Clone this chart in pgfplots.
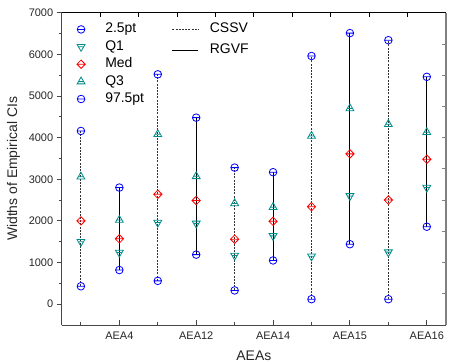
\documentclass[border=0pt]{standalone}
\usepackage{fontspec}
\setmainfont{Liberation Sans}
\usepackage{pgfplots}
\pgfplotsset{compat=1.18}
\definecolor{tealc}{RGB}{0,140,140}
\definecolor{axgray}{RGB}{70,70,70}
\pgfdeclareplotmark{ominus}{%
  \pgfpathcircle{\pgfpointorigin}{\pgfplotmarksize}%
  \pgfpathmoveto{\pgfpoint{-\pgfplotmarksize}{0pt}}%
  \pgfpathlineto{\pgfpoint{\pgfplotmarksize}{0pt}}%
  \pgfusepathqstroke}
\pgfdeclareplotmark{tridown}{%
  \pgfpathmoveto{\pgfpoint{0pt}{-1.2\pgfplotmarksize}}%
  \pgfpathlineto{\pgfpoint{1.04\pgfplotmarksize}{0.6\pgfplotmarksize}}%
  \pgfpathlineto{\pgfpoint{-1.04\pgfplotmarksize}{0.6\pgfplotmarksize}}%
  \pgfpathclose
  \pgfpathmoveto{\pgfpoint{-0.69\pgfplotmarksize}{0pt}}%
  \pgfpathlineto{\pgfpoint{0.69\pgfplotmarksize}{0pt}}%
  \pgfusepathqstroke}
\pgfdeclareplotmark{triup}{%
  \pgfpathmoveto{\pgfpoint{0pt}{1.2\pgfplotmarksize}}%
  \pgfpathlineto{\pgfpoint{1.04\pgfplotmarksize}{-0.6\pgfplotmarksize}}%
  \pgfpathlineto{\pgfpoint{-1.04\pgfplotmarksize}{-0.6\pgfplotmarksize}}%
  \pgfpathclose
  \pgfpathmoveto{\pgfpoint{-0.69\pgfplotmarksize}{0pt}}%
  \pgfpathlineto{\pgfpoint{0.69\pgfplotmarksize}{0pt}}%
  \pgfusepathqstroke}
\pgfdeclareplotmark{diam}{%
  \pgfpathmoveto{\pgfpoint{0pt}{1.1\pgfplotmarksize}}%
  \pgfpathlineto{\pgfpoint{1.1\pgfplotmarksize}{0pt}}%
  \pgfpathlineto{\pgfpoint{0pt}{-1.1\pgfplotmarksize}}%
  \pgfpathlineto{\pgfpoint{-1.1\pgfplotmarksize}{0pt}}%
  \pgfpathclose
  \pgfpathmoveto{\pgfpoint{-1.1\pgfplotmarksize}{0pt}}%
  \pgfpathlineto{\pgfpoint{1.1\pgfplotmarksize}{0pt}}%
  \pgfusepathqstroke}
\begin{document}
\begin{tikzpicture}
\begin{axis}[
  at={(0,0)}, anchor=south west,
  scale only axis, width=384.3bp, height=312.3bp,
  xmin=0.5, xmax=10.5, ymin=-500, ymax=7000,
  axis x line*=bottom, axis y line*=left,
  axis line style={-, draw=axgray, line width=0.9bp},
  every tick/.style={axgray, line width=0.9bp},
  xtick={2,4,6,8,10},
  xticklabels={AEA4,AEA12,AEA14,AEA15,AEA16},
  minor xtick={1,3,5,7,9},
  ytick={0,1000,...,7000},
  minor ytick={500,1500,...,6500},
  xtick align=inside, ytick align=outside,
  major tick length=5bp, minor tick length=3bp,
  /pgf/number format/assume math mode=true,
  /pgf/number format/1000 sep={},
  tick label style={font=\fontsize{11}{13}\selectfont, text=black!85},
  xticklabel style={yshift=-3bp},
  xlabel={AEAs}, ylabel={Widths of Empirical CIs},
  label style={font=\fontsize{14}{16}\selectfont, text=black!85},
  xlabel style={at={(axis description cs:0.5,0)}, anchor=center, yshift=-31bp},
  ylabel style={at={(axis description cs:-0.1254,0.5)}, anchor=center},
  legend style={at={(axis description cs:0,1)}, anchor=north west,
    xshift=15bp, yshift=-9bp, draw=none, fill=none, inner sep=0pt,
    font=\fontsize{14}{16}\selectfont, row sep=2.4bp, column sep=19bp,
    nodes={inner sep=1bp, text height=10bp, text depth=3bp}},
  legend cell align=left,
  mark size=3.8bp,
  unbounded coords=jump,
]
% vertical lines (CSSV dotted, RGVF solid), from 2.5pt to 97.5pt
\addplot[forget plot, black!80, line width=1bp, dash pattern=on 2bp off 1.2bp]
  coordinates {(1,430) (1,4160) (1,nan) (3,560) (3,5520) (3,nan) (5,330) (5,3280) (5,nan)
               (7,120) (7,5960) (7,nan) (9,120) (9,6340)};
\addplot[forget plot, black, line width=1bp]
  coordinates {(2,820) (2,2800) (2,nan) (4,1190) (4,4480) (4,nan) (6,1050) (6,3170) (6,nan)
               (8,1440) (8,6510) (8,nan) (10,1860) (10,5460)};
% markers
\addplot[only marks, mark=ominus, blue, line width=0.8bp]
  coordinates {(1,430) (2,820) (3,560) (4,1190) (5,330) (6,1050) (7,120) (8,1440) (9,120) (10,1860)};
\addlegendentry{2.5pt}
\addplot[only marks, mark=tridown, tealc, line width=0.8bp]
  coordinates {(1,1500) (2,1240) (3,1960) (4,1940) (5,1170) (6,1640) (7,1150) (8,2600) (9,1250) (10,2800)};
\addlegendentry{Q1}
\addplot[only marks, mark=diam, red, line width=0.8bp]
  coordinates {(1,2000) (2,1570) (3,2640) (4,2490) (5,1560) (6,1990) (7,2340) (8,3610) (9,2500) (10,3480)};
\addlegendentry{Med}
\addplot[only marks, mark=triup, tealc, line width=0.8bp]
  coordinates {(1,3060) (2,2020) (3,4080) (4,3070) (5,2420) (6,2330) (7,4040) (8,4700) (9,4320) (10,4130)};
\addlegendentry{Q3}
\addplot[only marks, mark=ominus, blue, line width=0.8bp]
  coordinates {(1,4160) (2,2800) (3,5520) (4,4480) (5,3280) (6,3170) (7,5960) (8,6510) (9,6340) (10,5460)};
\addlegendentry{97.5pt}
\end{axis}
\begin{axis}[
  at={(0,0)}, anchor=south west,
  scale only axis, width=384.3bp, height=312.3bp,
  xmin=0.5, xmax=10.5, ymin=-500, ymax=7000,
  axis x line*=top, axis y line*=right,
  x axis line style={-, draw=black, line width=0.9bp},
  y axis line style={-, draw=gray, line width=1.2bp},
  xtick={1.5,2.5,...,9.5}, ytick={250,1000,...,6250},
  xticklabels={}, yticklabels={},
  tick align=inside, major tick length=4bp,
  x tick style={black, line width=0.8bp},
  y tick style={gray, line width=0.8bp},
  legend style={at={(axis description cs:0.268,1)}, anchor=north west,
    xshift=7bp, yshift=-9bp, draw=none, fill=none, inner sep=0pt,
    font=\fontsize{14}{16}\selectfont, row sep=6bp, column sep=10bp,
    nodes={inner sep=1bp, text height=10bp, text depth=3bp}},
  legend cell align=left,
  legend image code/.code={\draw[#1] (0bp,0bp) -- (26bp,0bp);},
]
\addlegendimage{black!80, line width=1bp, dash pattern=on 2bp off 1.2bp}
\addlegendentry{CSSV}
\addlegendimage{black, line width=1bp}
\addlegendentry{RGVF}
\end{axis}
\pgfresetboundingbox
\path[use as bounding box] (-61.7bp,-39bp) rectangle (387.3bp,325bp);
\end{tikzpicture}
\end{document}
